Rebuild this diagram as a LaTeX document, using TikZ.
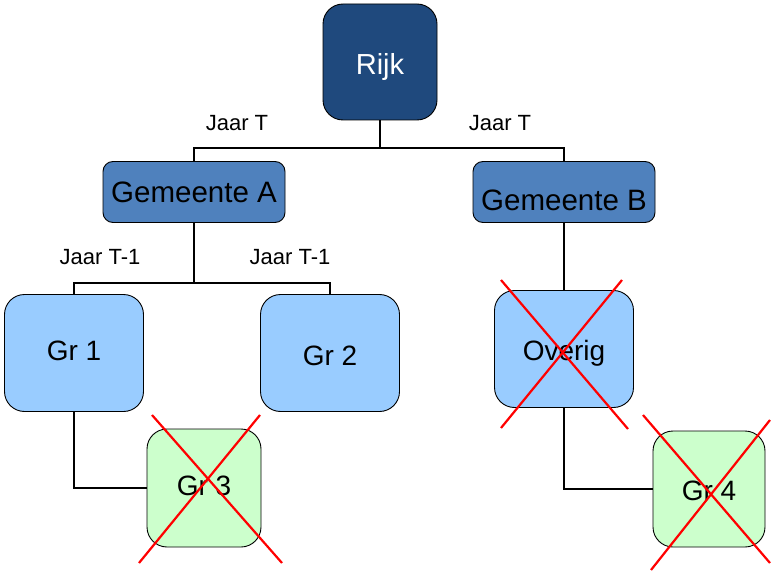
\documentclass[tikz,border=0pt]{standalone}
\usepackage{fontspec}
\setmainfont{Liberation Sans}
\definecolor{rijkblauw}{RGB}{31,73,125}
\definecolor{gemblauw}{RGB}{79,129,189}
\definecolor{grblauw}{RGB}{153,204,255}
\definecolor{grgroen}{RGB}{204,255,204}
\tikzset{
  vak/.style={draw=black,line width=0.9pt,inner sep=0pt,align=center,text depth=0pt},
  rijkvak/.style={vak,fill=rijkblauw,text=white,rounded corners=20pt,text height=20.8pt,
    minimum width=114pt,minimum height=116pt,font=\fontsize{29}{32}\selectfont},
  gemvak/.style={vak,fill=gemblauw,rounded corners=10pt,text height=21.1pt,
    minimum width=182pt,minimum height=61pt,font=\fontsize{29.5}{32}\selectfont},
  grvak/.style={vak,fill=grblauw,rounded corners=20pt,text height=20pt,
    minimum width=139pt,minimum height=117pt,font=\fontsize{28}{32}\selectfont},
  groenvak/.style={grvak,fill=grgroen,minimum width=114pt,minimum height=118pt},
  lijn/.style={line width=2.4pt},
  jaar/.style={font=\fontsize{22}{24}\selectfont},
  kruis/.style={red,line width=2.2pt}
}
\begin{document}
\begin{tikzpicture}[x=1pt,y=-1pt]
\useasboundingbox (0,0) rectangle (776,572);
\node[rijkvak,text height=24.8pt] (rijk) at (380,62) {Rijk};
\node[gemvak] (gemA) at (194,192) {Gemeente A};
\node[gemvak,text height=37pt] (gemB) at (564,192) {Gemeente B};
\node[grvak,text depth=5pt] (gr1) at (74,353) {Gr 1};
\node[grvak,text height=25pt] (gr2) at (330,353) {Gr 2};
\node[grvak,text height=23pt] (overig) at (564,349) {Overig};
\node[groenvak,text depth=6pt] (gr3) at (204,488) {Gr 3};
\node[groenvak,minimum width=112pt,minimum height=116pt,text height=22pt] (gr4) at (709,489) {Gr 4};
\coordinate (rijkbus) at (380,148);
\coordinate (gembus) at (194,283);
\draw[lijn] (rijk.south) -- (rijkbus);
\draw[lijn] (gemA.north) |- (rijkbus) -| (gemB.north);
\draw[lijn] (gemA.south) -- (gembus);
\draw[lijn] (gr1.north) |- (gembus) -| (gr2.north);
\draw[lijn] (gemB.south) -- (overig.north);
\draw[lijn] (gr1.south) |- (gr3.west);
\draw[lijn] (overig.south) |- (gr4.west);
\node[jaar] (jaarA) at (237,123) {Jaar T};
\node[jaar] (jaarB) at (500,123) {Jaar T};
\node[jaar] (jaar1) at (100,257) {Jaar T-1};
\node[jaar] (jaar2) at (290,257) {Jaar T-1};
\draw[kruis] (501,280) -- (628,429);
\draw[kruis] (622,280) -- (501,428);
\draw[kruis] (152,415) -- (282,563);
\draw[kruis] (260,415) -- (139,563);
\draw[kruis] (643,415) -- (770,563);
\draw[kruis] (770,420) -- (651,570);
\end{tikzpicture}
\end{document}
